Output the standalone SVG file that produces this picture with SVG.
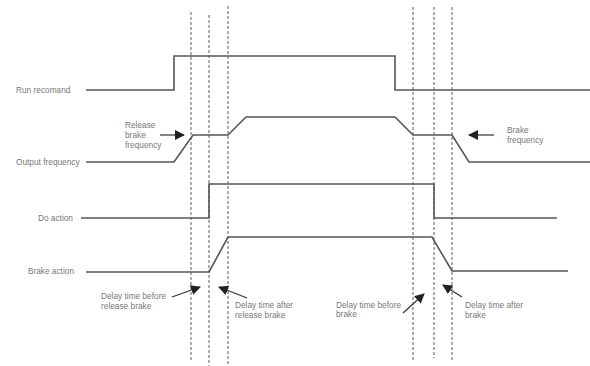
<svg xmlns="http://www.w3.org/2000/svg" width="590" height="366" viewBox="0 0 590 366">
<defs>
<marker id="ah" viewBox="0 0 10 10" refX="9" refY="5" markerWidth="10" markerHeight="10" markerUnits="userSpaceOnUse" orient="auto">
<path d="M0,0 L10,5 L0,10 z" fill="#222"/>
</marker>
<style>
.lbl{font-family:"Liberation Sans",Arial,sans-serif;font-size:8.3px;fill:#777}
.sig{fill:none;stroke:#555;stroke-width:1.6;stroke-linejoin:miter}
.dash{stroke:#777;stroke-width:1.2;stroke-dasharray:3 2;fill:none}
.arr{stroke:#333;stroke-width:1.2;fill:none;marker-end:url(#ah)}
</style>
</defs>
<rect width="590" height="366" fill="#fff"/>
<g id="guides">
<line class="dash" x1="191" y1="12" x2="191" y2="360"/>
<line class="dash" x1="209" y1="15" x2="209" y2="366"/>
<line class="dash" x1="228" y1="6" x2="228" y2="364"/>
<line class="dash" x1="413" y1="7" x2="413" y2="362"/>
<line class="dash" x1="434" y1="7" x2="434" y2="358"/>
<line class="dash" x1="452" y1="7" x2="452" y2="362"/>
</g>
<g id="run-command">
<text class="lbl" x="16" y="93">Run recomand</text>
<polyline class="sig" points="86,90 174,90 174,56 395,56 395,90 590,90"/>
</g>
<g id="output-frequency">
<text class="lbl" x="16" y="165">Output frequency</text>
<polyline class="sig" points="86,162 174,162 193,135 228,135 246,117 395,117 413,135 452,135 469,162 590,162"/>
</g>
<g id="do-action">
<text class="lbl" x="73" y="221" text-anchor="end">Do action</text>
<polyline class="sig" points="81,218 209,218 209,184 434,184 434,218 557,218"/>
</g>
<g id="brake-action">
<text class="lbl" x="74" y="274" text-anchor="end">Brake action</text>
<polyline class="sig" points="86,272 209,272 228,237 432,237 452,271 568,271"/>
</g>
<g id="release-brake-frequency">
<text class="lbl" x="125" y="128">Release</text>
<text class="lbl" x="125" y="138">brake</text>
<text class="lbl" x="125" y="148">frequency</text>
</g>
<g id="brake-frequency">
<text class="lbl" x="507" y="133">Brake</text>
<text class="lbl" x="507" y="143">frequency</text>
</g>
<g id="delay-before-release">
<text class="lbl" x="101" y="299">Delay time before</text>
<text class="lbl" x="101" y="309">release brake</text>
</g>
<g id="delay-after-release">
<text class="lbl" x="235" y="308">Delay time after</text>
<text class="lbl" x="235" y="318">release brake</text>
</g>
<g id="delay-before-brake">
<text class="lbl" x="336" y="308">Delay time before</text>
<text class="lbl" x="336" y="317">brake</text>
</g>
<g id="delay-after-brake">
<text class="lbl" x="465" y="308">Delay time after</text>
<text class="lbl" x="465" y="318">brake</text>
</g>
<g id="connectors">
<line class="arr" x1="160" y1="135" x2="184" y2="135"/>
<line class="arr" x1="494" y1="135" x2="469" y2="135"/>
<line class="arr" x1="172" y1="297" x2="200" y2="287"/>
<line class="arr" x1="247" y1="298" x2="219" y2="287"/>
<line class="arr" x1="403" y1="313" x2="424" y2="294"/>
<line class="arr" x1="462" y1="297" x2="443" y2="285"/>
</g>
</svg>
